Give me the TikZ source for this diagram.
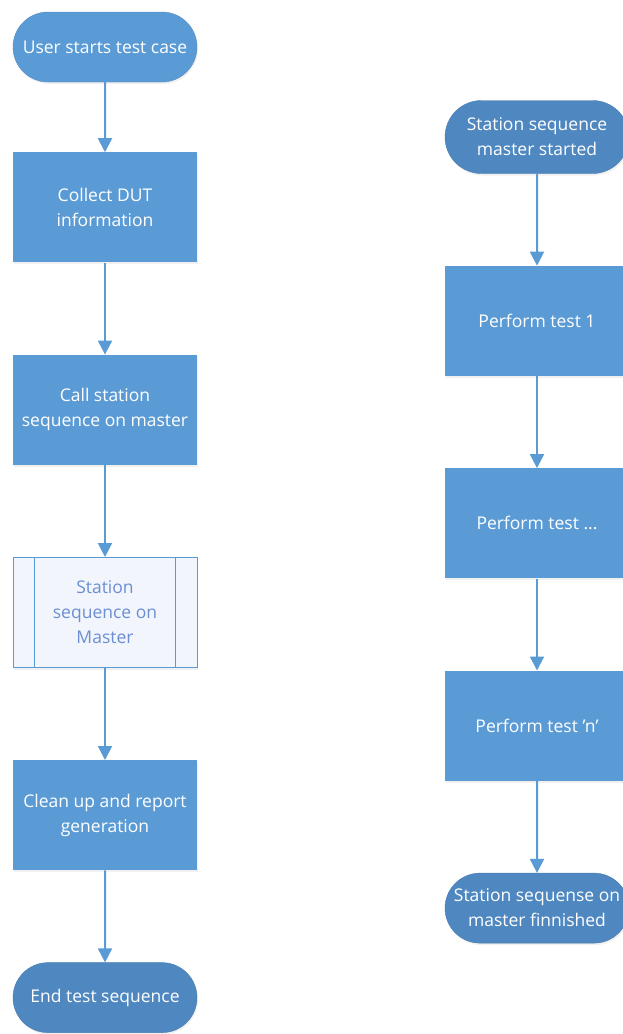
\documentclass[tikz,border=0pt]{standalone}
\usepackage{fontspec}
\setmainfont{Open Sans}
\usepackage{xcolor}
\usepackage{tikz}
\usetikzlibrary{arrows.meta}
\usetikzlibrary{shapes.misc}
\usetikzlibrary{positioning}
\usetikzlibrary{shadows}
\definecolor{procblue}{HTML}{5B9BD5}
\definecolor{termblue}{HTML}{4F88C1}
\definecolor{subfill}{HTML}{F2F5FC}
\definecolor{subtext}{HTML}{6B8FD2}
\tikzset{
    fnode/.style = {align=center, inner sep=0pt, text centered, font=\fontsize{17.5}{25}\selectfont,
        drop shadow={opacity=0.12, shadow xshift=1pt, shadow yshift=-2pt}},
    term/.style = {fnode, rounded rectangle, text=white, fill=termblue, draw=termblue!90!black, thin, minimum width=184pt, minimum height=70pt},
    start_term/.style = {term, fill=procblue, draw=procblue!90!black},
    proc/.style = {fnode, rectangle, text=white, fill=procblue, minimum width=184pt, minimum height=110pt},
    subproc/.style = {fnode, rectangle, fill=subfill, draw=procblue, line width=1pt, text=subtext, minimum width=184pt, minimum height=110pt},
    flow/.style = {-{Triangle[width=14pt,length=14pt]}, draw=procblue, line width=2pt}
}

\begin{document}
\begin{tikzpicture}[node distance=92pt]
    \useasboundingbox (0,0) rectangle (622pt,-1034pt);

    % left column: test case
    \node [start_term] (start) at (105pt,-47pt) {User starts test case};
    \node [proc, below=70pt of start] (collect) {Collect DUT\\information};
    \node [proc, below=of collect] (call) {Call station\\sequence on master};
    \node [subproc, below=of call] (sub) {Station\\sequence on\\Master};
    \node [proc, below=of sub] (clean) {Clean up and report\\generation};
    \node [term, below=of clean] (finish) {End test sequence};

    \draw [procblue, line width=1pt] ([xshift=22pt]sub.north west) -- ([xshift=22pt]sub.south west);
    \draw [procblue, line width=1pt] ([xshift=-22pt]sub.north east) -- ([xshift=-22pt]sub.south east);

    \draw [flow] (start) -- (collect);
    \draw [flow] (collect) -- (call);
    \draw [flow] (call) -- (sub);
    \draw [flow] (sub) -- (clean);
    \draw [flow] (clean) -- (finish);

    % right column: station sequence
    \node [term, minimum height=73pt] (mstart) at (537pt,-137pt) {Station sequence\\master started};
    \node [proc, below=of mstart] (test1) {Perform test 1};
    \node [proc, below=of test1] (testdots) {Perform test ...};
    \node [proc, below=of testdots] (testn) {Perform test 'n'};
    \node [term, below=of testn] (mend) {Station sequense on\\master finnished};

    \draw [flow] (mstart) -- (test1);
    \draw [flow] (test1) -- (testdots);
    \draw [flow] (testdots) -- (testn);
    \draw [flow] (testn) -- (mend);
\end{tikzpicture}
\end{document}
